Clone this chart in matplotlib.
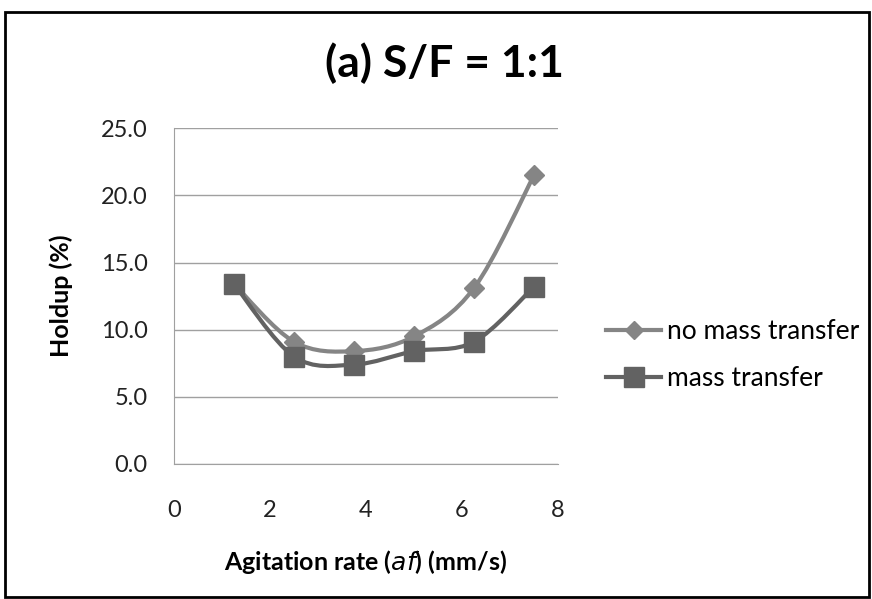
import numpy as np
import matplotlib.pyplot as plt
from matplotlib.path import Path
from matplotlib.patches import PathPatch, Rectangle

# agitation rate (mm/s) and holdup (%)
agitation = [1.25, 2.5, 3.75, 5.0, 6.25, 7.5]
holdup_no_mt = [13.4, 9.1, 8.4, 9.5, 13.1, 21.5]
holdup_mt = [13.4, 8.0, 7.4, 8.4, 9.1, 13.2]

labels = ['no mass transfer', 'mass transfer']
colors = ['#858585', '#626262']
markers = ['D', 's']
marker_sizes = [10, 15]
legend_marker_sizes = [9, 14]

plt.rcParams['font.family'] = ['Lato', 'DejaVu Sans']


def smooth_path(x, y):
    # Catmull-Rom style bezier through the points (like spreadsheet smoothed lines)
    pts = np.column_stack([x, y])
    verts = [pts[0]]
    codes = [Path.MOVETO]
    n = len(pts)
    for i in range(n - 1):
        p0 = pts[max(i - 1, 0)]
        p1 = pts[i]
        p2 = pts[i + 1]
        p3 = pts[min(i + 2, n - 1)]
        c1 = p1 + (p2 - p0) / 6
        c2 = p2 - (p3 - p1) / 6
        verts += [c1, c2, p2]
        codes += [Path.CURVE4] * 3
    return Path(verts, codes)


fig = plt.figure(figsize=(8.72, 5.99), dpi=100)
ax = fig.add_axes([0.1995, 0.2254, 0.4405, 0.5606])

handles = []
for ys, lab, c, m, ms, lms in zip([holdup_no_mt, holdup_mt], labels, colors,
                                  markers, marker_sizes, legend_marker_sizes):
    ax.add_patch(PathPatch(smooth_path(agitation, ys), facecolor='none',
                           edgecolor=c, lw=3, zorder=3))
    ax.plot(agitation, ys, linestyle='none', marker=m, ms=ms, color=c, zorder=4)
    h, = ax.plot([], [], color=c, lw=3, marker=m, ms=lms, label=lab)
    handles.append(h)

ax.set_xlim(0, 8)
ax.set_ylim(0, 25)
ax.set_xticks([0, 2, 4, 6, 8])
ax.set_yticks(np.arange(0, 26, 5))
ax.set_yticklabels([f'{v:.1f}' for v in np.arange(0, 26, 5)])
ax.tick_params(length=0, labelsize=17, colors='#222222')
ax.tick_params(axis='y', pad=19)
ax.tick_params(axis='x', pad=26)
ax.grid(axis='y', color='#a0a0a0', lw=1)
ax.set_axisbelow(True)
for s in ['top', 'right']:
    ax.spines[s].set_visible(False)
for s in ['left', 'bottom']:
    ax.spines[s].set_color('#a0a0a0')

ax.set_ylabel('Holdup (%)', fontsize=18, fontweight='bold', va='center')
ax.yaxis.set_label_coords(-0.294, 0.5)
ax.set_xlabel(r'Agitation rate ($\bf{\it{af}}$) (mm/s)', fontsize=18,
              fontweight='bold', va='center')
ax.xaxis.set_label_coords(0.5, -0.292)

fig.text(0.51, 0.895, '(a) S/F = 1:1', ha='center', va='center',
         fontsize=32, fontweight='bold')

fig.legend(handles=handles, loc='center left', bbox_to_anchor=(0.695, 0.407),
           frameon=False, fontsize=19, handlelength=2.1, handletextpad=0.2,
           labelspacing=0.85, borderpad=0, borderaxespad=0)

fig.patches.append(Rectangle((0.006, 0.004), 0.99, 0.976, transform=fig.transFigure,
                             fill=False, edgecolor='black', lw=2))

fig.savefig('out.png', dpi=100)
